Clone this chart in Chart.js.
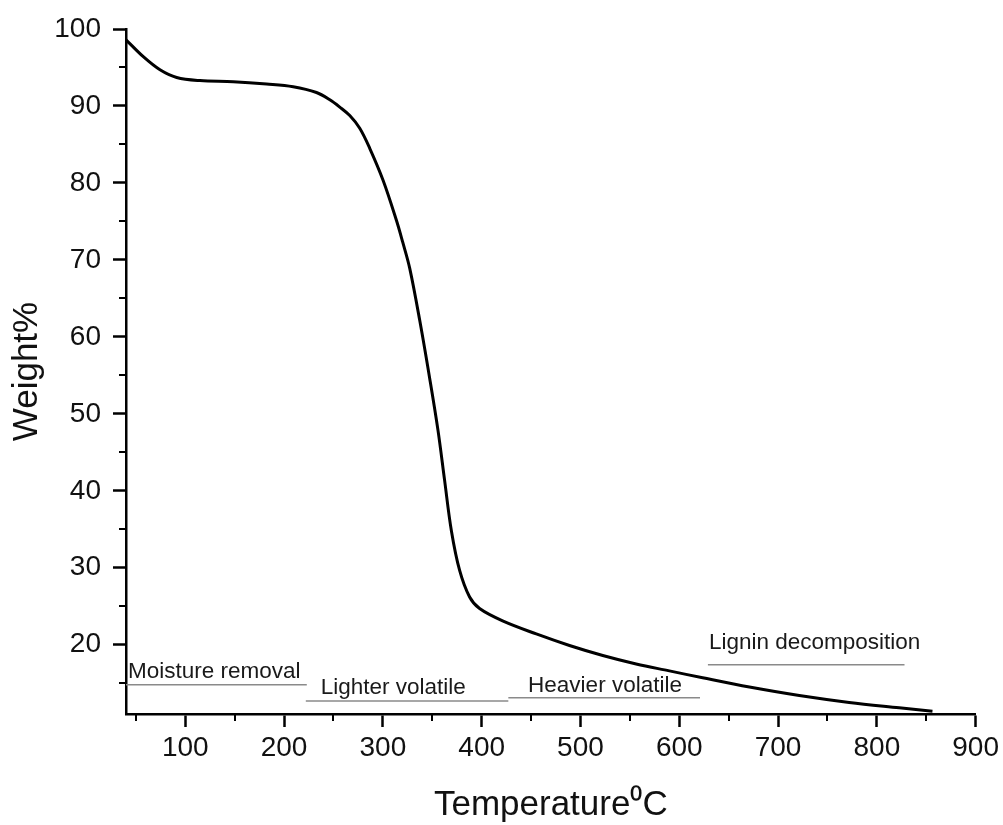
<!DOCTYPE html>
<html>
<head>
<meta charset="utf-8">
<script src="https://cdn.jsdelivr.net/npm/chart.js@4.4.1/dist/chart.umd.min.js"></script>
<style>
  html, body { margin: 0; padding: 0; background: #ffffff; }
  #wrap { width: 1003px; height: 825px; position: relative; }
</style>
</head>
<body>
<div id="wrap"><canvas id="c"></canvas></div>
<script>
// ---- data ----
const temperature = [40, 57.5, 74.4, 91.3, 114.8, 148.5, 182.3, 209.2, 232.8, 246.3, 256.4, 266.5, 276.6, 286.7, 300.2, 313.7, 320.1, 327.2, 337.3, 347.4, 355.8, 362.5, 369.3, 377.7, 387.8, 397.9, 421.2, 455.3, 488.9, 522.6, 556.4, 590.0, 623.7, 671.0, 721.5, 772.0, 822.6, 856.3];
const weight = [98.6, 96.4, 94.7, 93.7, 93.3, 93.15, 92.85, 92.5, 91.75, 90.8, 89.85, 88.75, 87.1, 84.5, 80.35, 75.15, 72.3, 68.9, 62.15, 54.6, 47.85, 41.35, 34.85, 29.65, 26.2, 24.7, 23.1, 21.4, 19.9, 18.6, 17.5, 16.6, 15.7, 14.5, 13.4, 12.5, 11.8, 11.35];

const phaseNames = ['Moisture removal', 'Lighter volatile', 'Heavier volatile', 'Lignin decomposition'];
const phaseStart = [40, 222, 427, 629];
const phaseEnd = [223, 427, 621, 828];
const phaseLevel = [14.8, 12.7, 13.1, 17.4];
const phaseLabelX = [42, 237, 447, 630];
const phaseLabelY = [15.7, 13.65, 13.9, 19.5];

const xTickValues = [100, 200, 300, 400, 500, 600, 700, 800, 900];
const xMinorTicks = [50, 150, 250, 350, 450, 550, 650, 750, 850];
const yTickValues = [20, 30, 40, 50, 60, 70, 80, 90, 100];
const yMinorTicks = [15, 25, 35, 45, 55, 65, 75, 85, 95];

const FONT = '"Liberation Sans", Arial, sans-serif';

const datasets = [{
  label: 'TGA',
  data: temperature.map((t, i) => ({ x: t, y: weight[i] })),
  borderColor: '#000000',
  borderWidth: 3,
  pointRadius: 0,
  tension: 0.35,
  fill: false
}];
phaseNames.forEach((name, i) => {
  datasets.push({
    label: name,
    data: [{ x: phaseStart[i], y: phaseLevel[i] }, { x: phaseEnd[i], y: phaseLevel[i] }],
    borderColor: '#8a8a8a',
    borderWidth: 1.5,
    pointRadius: 0,
    tension: 0,
    fill: false
  });
});

const extras = {
  id: 'extras',
  afterDatasetsDraw(chart) {
    const ctx = chart.ctx;
    const xs = chart.scales.x, ys = chart.scales.y;
    ctx.save();
    ctx.font = '22.5px ' + FONT;
    ctx.fillStyle = '#1a1a1a';
    ctx.textAlign = 'left';
    ctx.textBaseline = 'alphabetic';
    phaseNames.forEach((name, i) => {
      ctx.fillText(name, xs.getPixelForValue(phaseLabelX[i]), ys.getPixelForValue(phaseLabelY[i]));
    });
    ctx.restore();
  },
  afterDraw(chart) {
    const ctx = chart.ctx;
    const xs = chart.scales.x, ys = chart.scales.y;
    ctx.save();
    ctx.strokeStyle = '#000000';
    ctx.lineWidth = 2;
    const minorLen = 7;
    xMinorTicks.forEach(v => {
      const px = Math.round(xs.getPixelForValue(v));
      ctx.beginPath();
      ctx.moveTo(px, ys.bottom);
      ctx.lineTo(px, ys.bottom + minorLen);
      ctx.stroke();
    });
    yMinorTicks.forEach(v => {
      const py = Math.round(ys.getPixelForValue(v));
      ctx.beginPath();
      ctx.moveTo(xs.left, py);
      ctx.lineTo(xs.left - minorLen, py);
      ctx.stroke();
    });
    ctx.restore();
  }
};

new Chart(document.getElementById('c'), {
  type: 'line',
  data: { datasets },
  options: {
    responsive: true,
    maintainAspectRatio: false,
    animation: false,
    events: [],
    layout: { padding: { top: 29, right: 27, bottom: 0, left: 0 } },
    plugins: { legend: { display: false }, tooltip: { enabled: false } },
    scales: {
      x: {
        type: 'linear',
        min: 40,
        max: 900,
        afterFit(scale) { scale.height = 111; },
        afterBuildTicks(scale) { scale.ticks = xTickValues.map(v => ({ value: v })); },
        ticks: {
          includeBounds: false,
          autoSkip: false,
          maxRotation: 0,
          padding: 4,
          color: '#111111',
          font: { family: FONT, size: 28 }
        },
        grid: {
          display: true,
          drawOnChartArea: false,
          drawTicks: true,
          tickLength: 13,
          tickWidth: 2.5,
          tickColor: '#000000'
        },
        border: { display: true, color: '#000000', width: 2.5 },
        title: {
          display: true,
          text: 'Temperature\u2070C',
          color: '#111111',
          font: { family: FONT, size: 35, lineHeight: 1 },
          padding: { top: 0, bottom: 2 }
        }
      },
      y: {
        type: 'linear',
        min: 11,
        max: 100,
        afterFit(scale) { scale.width = 126; },
        afterBuildTicks(scale) { scale.ticks = yTickValues.map(v => ({ value: v })); },
        ticks: {
          includeBounds: false,
          autoSkip: false,
          padding: 12,
          color: '#111111',
          font: { family: FONT, size: 28 }
        },
        grid: {
          display: true,
          drawOnChartArea: false,
          drawTicks: true,
          tickLength: 13,
          tickWidth: 2.5,
          tickColor: '#000000'
        },
        border: { display: true, color: '#000000', width: 2.5 },
        title: {
          display: true,
          text: 'Weight%',
          color: '#111111',
          font: { family: FONT, size: 35, lineHeight: 1 },
          padding: { top: 10, bottom: 0 }
        }
      }
    }
  },
  plugins: [extras]
});
</script>
</body>
</html>
